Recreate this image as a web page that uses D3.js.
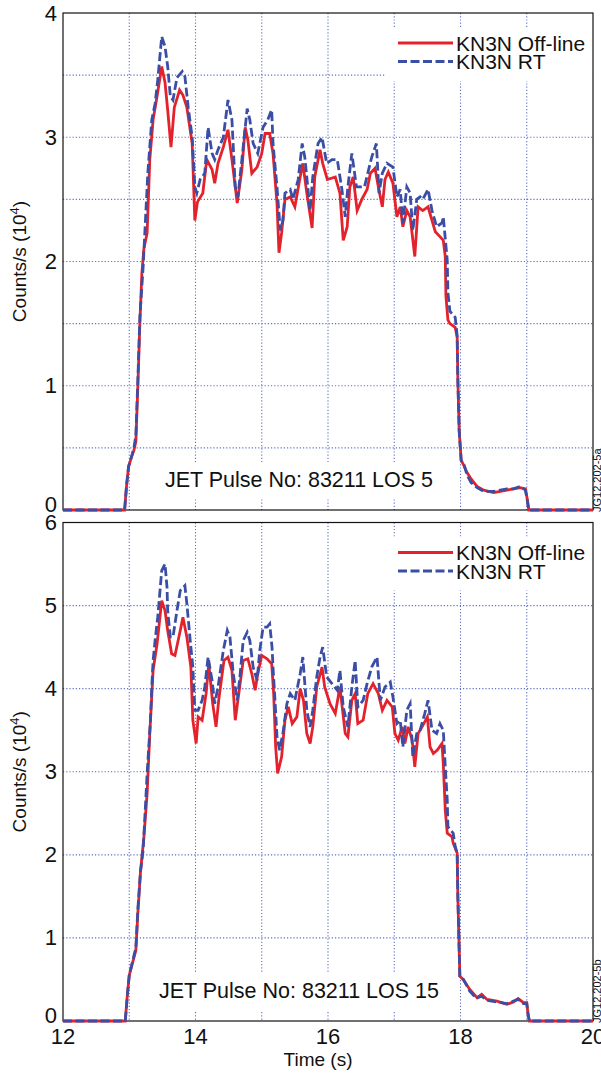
<!DOCTYPE html>
<html><head><meta charset="utf-8">
<script src="https://cdn.jsdelivr.net/npm/d3@7"></script>
<style>body{margin:0;background:#fff} svg{display:block} text{font-family:"Liberation Sans",Arial,Helvetica,sans-serif;fill:#111}</style>
</head><body><svg id="c" width="601" height="1073"></svg>
<script>
// ---------------- DATA ----------------
const xTicks = [12, 14, 16, 18, 20];
const xGrid = [13, 14, 15, 16, 17, 18, 19];
const topYTicks = [0, 1, 2, 3, 4];
const topYGrid = [0.5, 1, 1.5, 2, 2.5, 3, 3.5];
const botYTicks = [0, 1, 2, 3, 4, 5, 6];
const botYGrid = [1, 2, 3, 4, 5];
const seriesNames = ["KN3N Off-line", "KN3N RT"];
const panelLabels = ["JET Pulse No: 83211 LOS 5", "JET Pulse No: 83211 LOS 15"];
const figCodes = ["JG12.202-5a", "JG12.202-5b"];

// LOS 5, off-line (time s, counts/s 10^4)
const los5OffT = [12,12.93,12.96,12.99,13.03,13.07,13.10,13.13,13.16,13.19,13.22,13.27,13.31,13.36,13.42,13.49,13.54,13.58,13.63,13.68,13.76,13.81,13.87,13.95,13.99,14.03,14.11,14.17,14.25,14.29,14.34,14.42,14.49,14.55,14.63,14.70,14.75,14.79,14.85,14.93,15.00,15.05,15.12,15.17,15.23,15.26,15.30,15.35,15.43,15.50,15.58,15.62,15.68,15.76,15.80,15.88,15.92,15.99,16.11,16.18,16.23,16.29,16.33,16.38,16.44,16.51,16.59,16.64,16.71,16.76,16.82,16.86,16.91,16.98,17.04,17.09,17.13,17.19,17.24,17.31,17.36,17.43,17.51,17.57,17.62,17.69,17.74,17.77,17.78,17.81,17.84,17.92,17.95,17.96,17.98,18.01,18.05,18.10,18.16,18.25,18.35,18.50,18.60,18.70,18.80,18.90,18.98,19.01,19.03,20];
const los5OffV = [0,0,0.2,0.35,0.42,0.48,0.55,1.0,1.5,1.9,2.1,2.23,2.82,3.14,3.33,3.57,3.44,3.22,2.92,3.24,3.38,3.34,3.24,2.95,2.33,2.48,2.55,2.82,2.74,2.63,2.79,2.92,3.06,2.82,2.47,2.74,3.08,2.98,2.71,2.76,2.87,3.03,3.03,2.87,2.47,2.07,2.23,2.50,2.52,2.44,2.68,2.79,2.55,2.27,2.68,2.90,2.79,2.66,2.68,2.55,2.17,2.28,2.60,2.68,2.41,2.50,2.58,2.71,2.75,2.60,2.44,2.66,2.72,2.63,2.36,2.44,2.28,2.41,2.36,2.04,2.44,2.41,2.44,2.33,2.24,2.20,2.17,2.04,1.72,1.53,1.50,1.47,1.39,1.05,0.64,0.40,0.36,0.30,0.25,0.19,0.16,0.14,0.15,0.16,0.17,0.18,0.17,0.08,0,0];
// LOS 5, real time
const los5RtT = [12,12.93,12.96,12.99,13.03,13.07,13.10,13.13,13.16,13.21,13.28,13.34,13.39,13.43,13.49,13.54,13.58,13.62,13.66,13.72,13.80,13.84,13.89,13.95,13.99,14.02,14.07,14.14,14.19,14.25,14.29,14.34,14.42,14.49,14.55,14.60,14.64,14.70,14.78,14.82,14.87,14.94,15.02,15.09,15.15,15.17,15.23,15.28,15.32,15.35,15.43,15.47,15.55,15.61,15.65,15.73,15.77,15.85,15.91,15.98,16.06,16.14,16.21,16.26,16.30,16.36,16.43,16.50,16.55,16.60,16.66,16.73,16.77,16.82,16.89,16.98,17.04,17.09,17.13,17.19,17.24,17.28,17.34,17.39,17.43,17.51,17.57,17.64,17.72,17.74,17.80,17.81,17.84,17.92,17.95,17.96,17.98,18.01,18.05,18.10,18.16,18.25,18.35,18.50,18.60,18.70,18.80,18.90,18.98,19.01,19.03,20];
const los5RtV = [0,0,0.2,0.35,0.42,0.5,0.6,1.05,1.55,1.96,2.71,3.14,3.27,3.46,3.81,3.73,3.57,3.33,3.30,3.48,3.53,3.49,3.24,3.0,2.60,2.55,2.66,2.71,3.08,2.87,2.82,2.90,3.0,3.30,3.14,2.60,2.52,2.82,3.23,3.14,2.95,2.87,3.08,3.14,3.22,2.95,2.60,2.25,2.33,2.55,2.58,2.50,2.66,2.95,2.84,2.41,2.68,2.95,3.0,2.79,2.82,2.82,2.58,2.36,2.60,2.87,2.60,2.60,2.60,2.71,2.84,2.95,2.55,2.71,2.79,2.76,2.52,2.58,2.31,2.60,2.55,2.25,2.50,2.52,2.50,2.58,2.41,2.28,2.31,2.36,2.01,1.75,1.60,1.55,1.40,1.05,0.64,0.40,0.37,0.28,0.22,0.18,0.15,0.15,0.16,0.17,0.17,0.19,0.16,0.07,0,0];

// LOS 15, off-line
const los15OffT = [12,12.94,12.97,13.0,13.05,13.10,13.13,13.17,13.22,13.27,13.31,13.36,13.42,13.49,13.54,13.58,13.64,13.69,13.77,13.81,13.87,13.93,13.96,14.01,14.04,14.10,14.16,14.20,14.26,14.31,14.35,14.43,14.49,14.55,14.60,14.64,14.72,14.79,14.85,14.90,14.94,15.00,15.08,15.15,15.18,15.21,15.24,15.30,15.35,15.40,15.46,15.53,15.58,15.63,15.68,15.73,15.77,15.83,15.91,15.95,16.03,16.11,16.18,16.26,16.30,16.36,16.41,16.45,16.53,16.60,16.68,16.76,16.82,16.89,16.97,17.01,17.06,17.12,17.16,17.21,17.27,17.31,17.36,17.42,17.50,17.54,17.59,17.65,17.72,17.74,17.77,17.80,17.87,17.89,17.95,17.96,17.98,17.99,18.04,18.14,18.25,18.32,18.40,18.55,18.70,18.80,18.87,18.95,19.00,19.02,19.04,20];
const los15OffV = [0,0,0.3,0.55,0.7,0.85,1.3,1.8,2.2,2.74,3.46,4.22,4.54,5.06,4.94,4.70,4.42,4.40,4.70,4.86,4.62,4.26,3.62,3.34,3.66,3.62,3.94,4.30,3.82,3.54,3.86,4.34,4.38,4.22,3.62,3.86,4.34,4.36,4.18,3.98,4.18,4.40,4.36,4.30,3.94,3.30,2.98,3.18,3.62,3.78,3.58,3.66,4.0,3.86,3.46,3.34,3.54,4.02,4.26,4.02,3.82,3.70,4.02,3.46,3.42,3.86,3.94,3.58,3.62,3.94,4.06,3.94,3.74,3.86,3.78,3.46,3.38,3.54,3.34,3.54,3.38,3.06,3.46,3.54,3.66,3.30,3.22,3.26,3.34,3.10,2.54,2.26,2.22,2.14,2.02,1.50,0.86,0.54,0.50,0.38,0.28,0.32,0.26,0.24,0.20,0.23,0.27,0.22,0.22,0.08,0,0];
// LOS 15, real time
const los15RtT = [12,12.94,12.97,13.0,13.05,13.10,13.13,13.17,13.21,13.27,13.32,13.34,13.36,13.39,13.43,13.49,13.54,13.57,13.58,13.62,13.66,13.72,13.77,13.84,13.87,13.92,13.96,13.99,14.04,14.10,14.14,14.19,14.25,14.29,14.34,14.42,14.48,14.52,14.57,14.63,14.67,14.72,14.78,14.82,14.87,14.93,14.97,15.02,15.08,15.12,15.155,15.17,15.20,15.23,15.27,15.32,15.38,15.43,15.50,15.58,15.62,15.68,15.73,15.77,15.83,15.88,15.92,15.98,16.06,16.14,16.18,16.23,16.30,16.36,16.41,16.45,16.53,16.59,16.66,16.74,16.79,16.86,16.94,16.98,17.04,17.09,17.13,17.19,17.24,17.28,17.34,17.39,17.46,17.51,17.57,17.64,17.69,17.74,17.77,17.80,17.81,17.89,17.92,17.95,17.96,17.98,17.99,18.03,18.14,18.24,18.32,18.39,18.54,18.70,18.80,18.87,18.95,19.00,19.02,19.04,20];
const los15RtV = [0,0,0.3,0.55,0.72,0.88,1.35,1.8,2.06,2.98,3.62,4.02,4.34,4.58,4.86,5.42,5.50,5.22,4.94,4.62,4.62,4.94,5.18,5.24,5.02,4.58,4.26,3.74,3.74,3.86,4.02,4.38,4.10,3.82,4.02,4.46,4.70,4.62,4.18,3.86,4.14,4.58,4.68,4.58,4.26,4.10,4.46,4.74,4.74,4.78,4.50,4.26,3.86,3.42,3.26,3.47,3.82,3.94,3.86,4.18,4.38,3.74,3.54,3.74,4.14,4.38,4.50,4.14,4.06,3.98,4.22,3.78,3.54,4.02,4.34,3.78,3.86,4.06,4.26,4.38,3.86,4.02,4.08,3.90,3.58,3.62,3.30,3.74,3.82,3.18,3.46,3.50,3.70,3.86,3.50,3.46,3.58,3.50,3.06,2.66,2.34,2.26,2.10,2.02,1.50,0.86,0.54,0.52,0.36,0.27,0.30,0.25,0.23,0.21,0.24,0.26,0.21,0.21,0.08,0,0];

// ---------------- DRAW ----------------
const svg = d3.select("#c");
const L = 63, R = 593;
const RED = "#e3222b", BLUE = "#3b4ea6", GRID = "#5d70c4";
const x = d3.scaleLinear().domain([12, 20]).range([L, R]);

const panels = [
  {top: 13, bottom: 510, yMax: 4, yTicks: topYTicks, yGrid: topYGrid,
   off: [los5OffT, los5OffV], rt: [los5RtT, los5RtV], label: panelLabels[0], code: figCodes[0], showX: false},
  {top: 522.5, bottom: 1021, yMax: 6, yTicks: botYTicks, yGrid: botYGrid,
   off: [los15OffT, los15OffV], rt: [los15RtT, los15RtV], label: panelLabels[1], code: figCodes[1], showX: true}
];

panels.forEach((p, i) => {
  const y = d3.scaleLinear().domain([0, p.yMax]).range([p.bottom, p.top]);
  const g = svg.append("g");

  // grid
  g.selectAll(".hg").data(p.yGrid).enter().append("line")
    .attr("x1", L).attr("x2", R).attr("y1", d => y(d)).attr("y2", d => y(d))
    .attr("stroke", GRID).attr("stroke-width", 1.1).attr("stroke-dasharray", "1.2,2");
  g.selectAll(".vg").data(xGrid).enter().append("line")
    .attr("x1", d => x(d)).attr("x2", d => x(d)).attr("y1", p.top).attr("y2", p.bottom)
    .attr("stroke", GRID).attr("stroke-width", 1.1).attr("stroke-dasharray", "1.2,2");

  // annotation (white box hides grid)
  const ay = p.bottom - 30;
  g.append("rect").attr("x", 150).attr("y", ay - 18).attr("width", 298).attr("height", 37).attr("fill", "#fff");
  g.append("text").attr("x", 299).attr("y", ay).attr("text-anchor", "middle")
    .attr("dominant-baseline", "central").attr("font-size", 21.5).text(p.label);

  // legend
  const ly = p.top + 30;
  g.append("rect").attr("x", 386).attr("y", ly - 16).attr("width", R - 387).attr("height", 54).attr("fill", "#fff");
  const leg = [{name: seriesNames[0], c: RED, dash: null}, {name: seriesNames[1], c: BLUE, dash: "9,3.5"}];
  leg.forEach((s, k) => {
    const yy = ly + k * 18.5;
    g.append("line").attr("x1", 398).attr("x2", 453).attr("y1", yy).attr("y2", yy)
      .attr("stroke", s.c).attr("stroke-width", 3).attr("stroke-dasharray", s.dash);
    g.append("text").attr("x", 456).attr("y", yy).attr("dominant-baseline", "central")
      .attr("font-size", 21).text(s.name);
  });

  // frame
  g.append("rect").attr("x", L).attr("y", p.top).attr("width", R - L).attr("height", p.bottom - p.top)
    .attr("fill", "none").attr("stroke", "#111").attr("stroke-width", 1.2);

  // data
  const line = d3.line().x(d => x(d[0])).y(d => y(d[1]));
  const offPts = p.off[0].map((t, j) => [t, p.off[1][j]]);
  const rtPts = p.rt[0].map((t, j) => [t, p.rt[1][j]]);
  g.append("path").datum(offPts).attr("d", line).attr("fill", "none")
    .attr("stroke", RED).attr("stroke-width", 2.8).attr("stroke-linejoin", "miter");
  g.append("path").datum(rtPts).attr("d", line).attr("fill", "none")
    .attr("stroke", BLUE).attr("stroke-width", 2.8).attr("stroke-dasharray", "9,3.5");

  // y tick labels
  g.selectAll(".yt").data(p.yTicks).enter().append("text")
    .attr("x", 57).attr("y", d => y(d) - (d === 0 ? 6 : 0))
    .attr("text-anchor", "end").attr("dominant-baseline", "central")
    .attr("font-size", 22).text(d => d);

  // y label
  const cy = (p.top + p.bottom) / 2;
  const yl = g.append("text").attr("transform", `translate(26,${cy}) rotate(-90)`)
    .attr("text-anchor", "middle").attr("font-size", 19);
  yl.append("tspan").text("Counts/s (10");
  yl.append("tspan").attr("dy", -7).attr("font-size", 13).text("4");
  yl.append("tspan").attr("dy", 7).text(")");

  // figure code
  g.append("text").attr("transform", `translate(601,${p.bottom + 2}) rotate(-90)`)
    .attr("font-size", 11).attr("fill", "#222").text(p.code);

  // x axis labels
  if (p.showX) {
    g.selectAll(".xt").data(xTicks).enter().append("text")
      .attr("x", d => x(d)).attr("y", p.bottom + 15).attr("text-anchor", "middle")
      .attr("dominant-baseline", "central").attr("font-size", 22).text(d => d);
    g.append("text").attr("x", 318).attr("y", p.bottom + 38).attr("text-anchor", "middle")
      .attr("dominant-baseline", "central").attr("font-size", 19).text("Time (s)");
  }
});
</script></body></html>
